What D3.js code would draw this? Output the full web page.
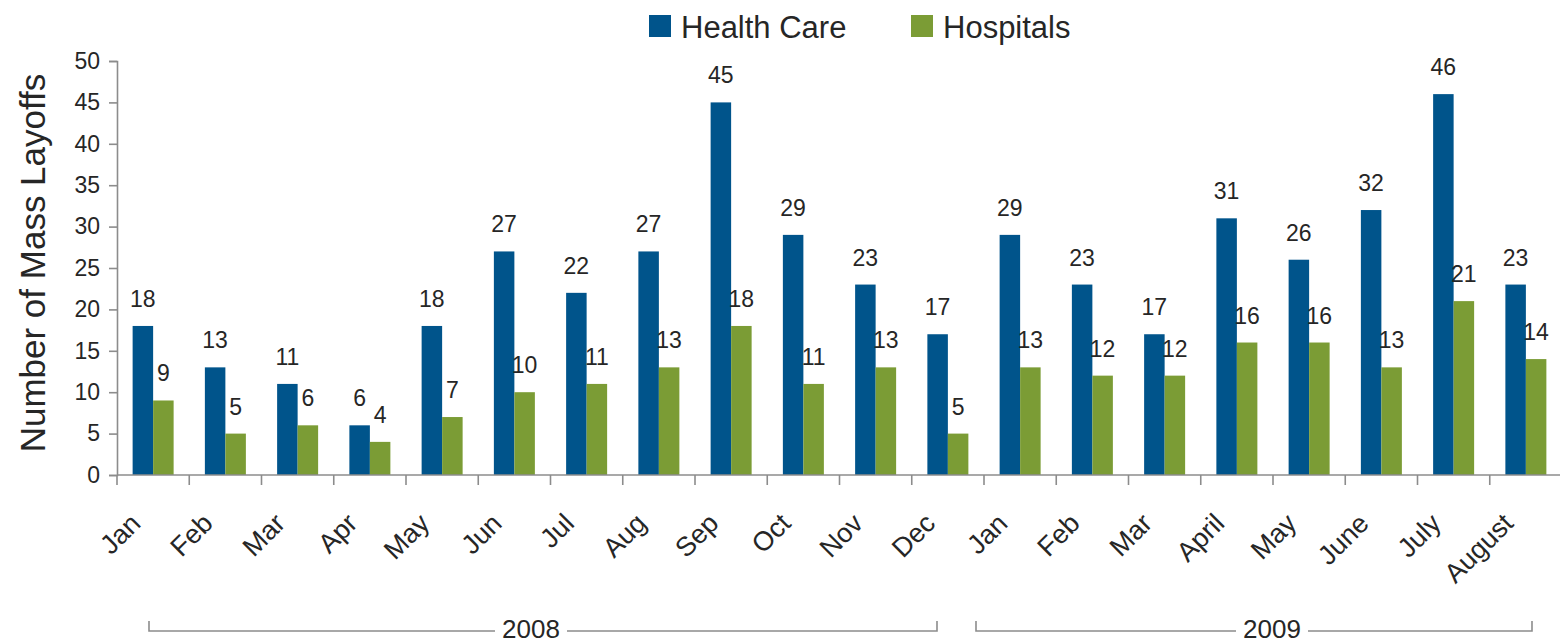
<head></head>
<body style="margin:0">
    <div id='chart'></div>
</body>
<script src='https://cdn.jsdelivr.net/npm/d3@7/dist/d3.min.js'></script>
<script>
    var width = 1560,
        height = 640;

    var months = ['Jan', 'Feb', 'Mar', 'Apr', 'May', 'Jun', 'Jul', 'Aug', 'Sep', 'Oct', 'Nov', 'Dec',
                  'Jan', 'Feb', 'Mar', 'April', 'May', 'June', 'July', 'August'];
    var health_care = [18, 13, 11, 6, 18, 27, 22, 27, 45, 29, 23, 17, 29, 23, 17, 31, 26, 32, 46, 23];
    var hospitals = [9, 5, 6, 4, 7, 10, 11, 13, 18, 11, 13, 5, 13, 12, 12, 16, 16, 13, 21, 14];
    var series_names = ['Health Care', 'Hospitals'];
    var y_ticks = [0, 5, 10, 15, 20, 25, 30, 35, 40, 45, 50];
    var years = [{year: '2008', first: 0, last: 11}, {year: '2009', first: 12, last: 19}];

    var colors = {'Health Care': '#00548b', 'Hospitals': '#7b9c35'};
    var text_color = '#262626',
        axis_color = '#8c8c8c',
        font = 'Liberation Sans, Arial, sans-serif';

    var margin = {top: 61, left: 117, right: 0, bottom: 163};

    var svg = d3.select('#chart')
        .append('svg')
        .attr('width', width)
        .attr('height', height)
        .style('font-family', font);

    var x = d3.scaleBand()
        .domain(d3.range(months.length))
        .range([margin.left, 1562]);

    var y = d3.scaleLinear()
        .domain([0, 50])
        .range([height - margin.bottom - 2, margin.top]);

    var group_width = 41;
    var x_inner = d3.scaleBand()
        .domain(series_names)
        .range([0, group_width]);

    var rows = months.map(function(m, i){
        return {i: i, month: m, values: [
            {name: 'Health Care', value: health_care[i]},
            {name: 'Hospitals', value: hospitals[i]}
        ]};
    });

    // bars
    var groups = svg.selectAll('g.month')
        .data(rows)
        .enter().append('g')
        .attr('class', 'month')
        .attr('transform', function(d){ return 'translate(' + (x(d.i) + (x.bandwidth() - group_width)/2) + ',0)'; });

    groups.selectAll('rect')
        .data(function(d){ return d.values; })
        .enter().append('rect')
        .attr('x', function(d){ return x_inner(d.name); })
        .attr('width', x_inner.bandwidth())
        .attr('y', function(d){ return y(d.value); })
        .attr('height', function(d){ return y(0) - y(d.value); })
        .attr('fill', function(d){ return colors[d.name]; });

    groups.selectAll('text.val')
        .data(function(d){ return d.values; })
        .enter().append('text')
        .attr('class', 'val')
        .attr('x', function(d){ return x_inner(d.name) + x_inner.bandwidth()/2; })
        .attr('y', function(d){ return y(d.value) - 19; })
        .attr('text-anchor', 'middle')
        .attr('font-size', 23)
        .attr('fill', text_color)
        .text(function(d){ return d.value; });

    // y axis
    var y_axis = svg.append('g')
        .attr('transform', 'translate(' + margin.left + ',0)')
        .call(d3.axisLeft(y).tickValues(y_ticks).tickSize(8).tickPadding(9));

    y_axis.selectAll('text')
        .attr('font-size', 23)
        .attr('font-family', font)
        .attr('fill', text_color);

    // x axis with ticks at band edges
    var x_axis = svg.append('g')
        .attr('transform', 'translate(0,' + y(0) + ')');

    x_axis.append('line')
        .attr('x1', margin.left)
        .attr('x2', width)
        .attr('stroke', axis_color)
        .attr('stroke-width', 1.6);

    x_axis.selectAll('line.tick')
        .data(d3.range(months.length))
        .enter().append('line')
        .attr('class', 'tick')
        .attr('x1', function(d){ return x(d); })
        .attr('x2', function(d){ return x(d); })
        .attr('y1', 0)
        .attr('y2', 10)
        .attr('stroke', axis_color)
        .attr('stroke-width', 1.6);

    x_axis.selectAll('text')
        .data(rows)
        .enter().append('text')
        .attr('transform', function(d){ return 'translate(' + (x(d.i) + x.bandwidth()/2 - 11) + ',50) rotate(-45)'; })
        .attr('text-anchor', 'end')
        .attr('font-size', 27)
        .attr('fill', text_color)
        .text(function(d){ return d.month; });

    svg.selectAll('.domain, .tick line')
        .attr('stroke', axis_color)
        .attr('stroke-width', 1.6);

    // y title
    svg.append('text')
        .attr('transform', 'translate(45,' + 263 + ') rotate(-90)')
        .attr('text-anchor', 'middle')
        .attr('font-size', 35)
        .attr('fill', text_color)
        .text('Number of Mass Layoffs');

    // year brackets
    var bracket_y = 631,
        bracket_top = 621;
    var insets = {'2008': [32, 47, 531], '2009': [-8, 30, 1272]};

    years.forEach(function(yr){
        var x0 = x(yr.first) + insets[yr.year][0],
            x1 = x(yr.last) + x.bandwidth() - insets[yr.year][1],
            tx = insets[yr.year][2];
        var half = 36;
        svg.append('path')
            .attr('d', 'M' + x0 + ',' + bracket_top + 'V' + bracket_y + 'H' + (tx - half))
            .attr('fill', 'none')
            .attr('stroke', axis_color)
            .attr('stroke-width', 1.6);
        svg.append('path')
            .attr('d', 'M' + (tx + half) + ',' + bracket_y + 'H' + x1 + 'V' + bracket_top)
            .attr('fill', 'none')
            .attr('stroke', axis_color)
            .attr('stroke-width', 1.6);
        svg.append('text')
            .attr('x', tx)
            .attr('y', 638)
            .attr('text-anchor', 'middle')
            .attr('font-size', 26)
            .attr('fill', text_color)
            .text(yr.year);
    });

    // legend
    var legend_x = {'Health Care': 649, 'Hospitals': 911};
    var legend = svg.selectAll('g.legend')
        .data(series_names)
        .enter().append('g')
        .attr('class', 'legend')
        .attr('transform', function(d){ return 'translate(' + legend_x[d] + ',15)'; });

    legend.append('rect')
        .attr('width', 22)
        .attr('height', 22)
        .attr('fill', function(d){ return colors[d]; });

    legend.append('text')
        .attr('x', 32)
        .attr('y', 22.5)
        .attr('font-size', 31)
        .attr('fill', text_color)
        .text(function(d){ return d; });
</script>
